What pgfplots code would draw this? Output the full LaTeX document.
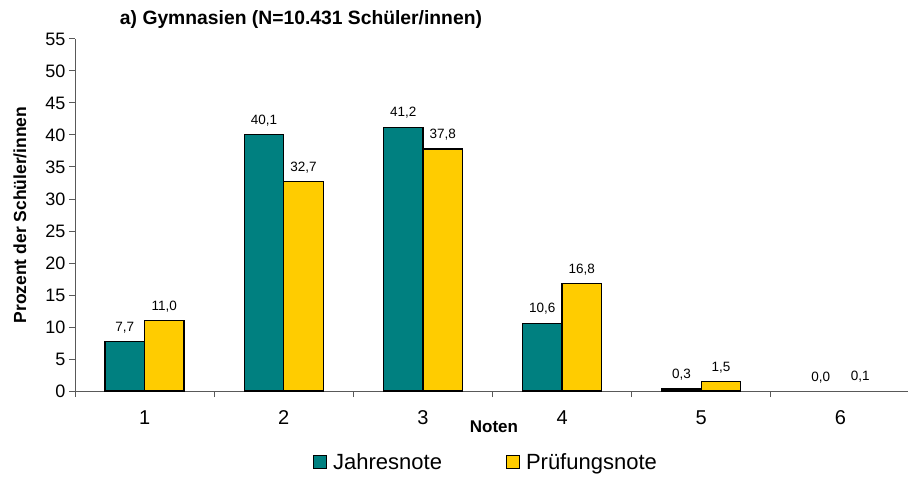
\documentclass[border=0pt]{standalone}
\usepackage{pgfplots}
\pgfplotsset{compat=1.18}
\usepackage{fontspec}
\setmainfont{Liberation Sans}
\definecolor{tealbar}{HTML}{008080}
\definecolor{goldbar}{HTML}{FFCC00}
\begin{document}
\begin{tikzpicture}
\path[use as bounding box] (-75bp,-86bp) rectangle (833bp,391bp);
\begin{axis}[
  at={(0bp,0bp)}, anchor=south west,
  scale only axis, width=835bp, height=352bp,
  xmin=0.5, xmax=6.5, ymin=0, ymax=55,
  axis x line*=bottom, axis y line*=left,
  axis line style={black!65, line width=1bp},
  tick style={black!65, line width=1bp},
  tick align=outside, major tick length=6bp,
  xtick={0.5,1.5,...,6.5},
  xticklabels={1,2,3,4,5,6,{}},
  x tick label style={xshift=69.6bp, font=\fontsize{20bp}{22bp}\selectfont, yshift=-10bp},
  ytick={0,5,...,55},
  y tick label style={font=\fontsize{18bp}{20bp}\selectfont},
  /pgf/number format/assume math mode=true,
  ybar=0pt, bar width=39.5bp,
  nodes near coords,
  nodes near coords style={font=\fontsize{13.5bp}{15bp}\selectfont, anchor=south, inner sep=0pt, yshift=8bp,
    /pgf/number format/.cd, fixed, fixed zerofill, precision=1, use comma, assume math mode=true},
  legend columns=2,
  legend style={at={(axis description cs:0.285,-0.202)}, anchor=west, draw=none, fill=none,
    font=\fontsize{22bp}{24bp}\selectfont, inner sep=0pt,
    /tikz/every odd column/.append style={column sep=4bp},
    /tikz/every even column/.append style={column sep=62bp}},
  legend image code/.code={\draw[#1, draw=black, line width=1bp] (0bp,-6.5bp) rectangle (13bp,6.5bp);},
]
\addplot[fill=tealbar, draw=black, line width=1.2bp, bar shift=-19.75bp] coordinates {(1,7.7) (2,40.1) (3,41.2) (4,10.6) (5,0.3)};
\addplot[fill=goldbar, draw=black, line width=1.2bp, bar shift=19.75bp] coordinates {(1,11.0) (2,32.7) (3,37.8) (4,16.8) (5,1.5)};
\addplot[forget plot, draw=none, fill=none, bar shift=-19.75bp] coordinates {(6,0.0)};
\addplot[forget plot, draw=none, fill=none, bar shift=19.75bp] coordinates {(6,0.1)};
\legend{Jahresnote, Prüfungsnote}
\end{axis}
\node[font=\bfseries\fontsize{19.3bp}{21bp}\selectfont] at (226bp,371bp) {a) Gymnasien (N=10.431 Schüler/innen)};
\node[font=\bfseries\fontsize{17.5bp}{19bp}\selectfont, rotate=90] at (-55bp,176bp) {Prozent der Schüler/innen};
\node[font=\bfseries\fontsize{17bp}{19bp}\selectfont] at (419bp,-36bp) {Noten};
\end{tikzpicture}
\end{document}
